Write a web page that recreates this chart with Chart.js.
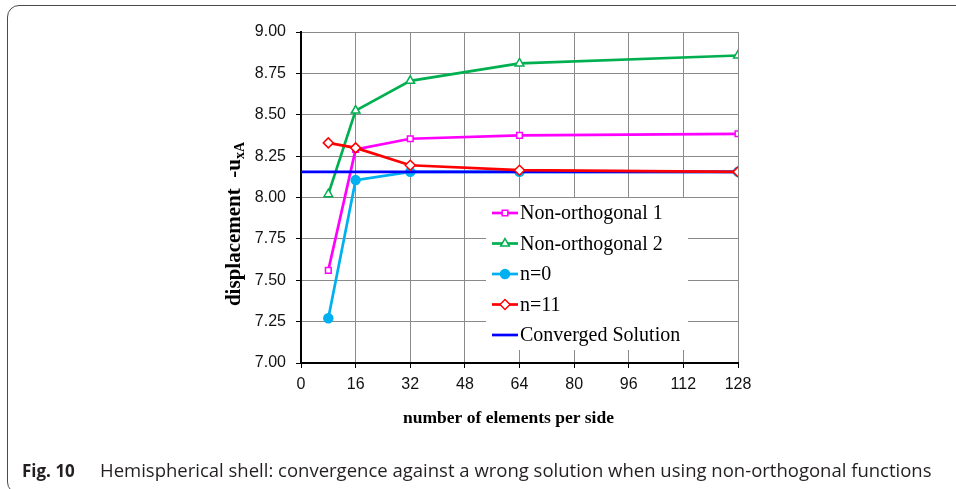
<!DOCTYPE html>
<html>
<head>
<meta charset="utf-8">
<script src="https://cdn.jsdelivr.net/npm/chart.js@4.4.0/dist/chart.umd.min.js"></script>
<style>
  html, body { margin: 0; padding: 0; background: #fff; }
  #wrap { position: relative; width: 956px; height: 489px; overflow: hidden; }
  #frame { position: absolute; left: 7px; top: 5px; width: 1000px; height: 489px;
           border: 1.5px solid #4a4a4a; border-radius: 12px; box-sizing: border-box; }
  #cv { position: absolute; left: 0; top: 0; }
  #caption { position: absolute; left: 22px; top: 457px; font-family: "Open Sans", sans-serif;
             font-size: 18.5px; color: #231f20; white-space: nowrap; }
  #caption b { font-weight: 700; font-size: 17px; display: inline-block; width: 78px; }
</style>
</head>
<body>
<div id="wrap">
  <div id="frame"></div>
  <canvas id="cv" width="956" height="489"></canvas>
  <div id="caption"><b>Fig. 10</b>Hemispherical shell: convergence against a wrong solution when using non-orthogonal functions</div>
</div>
<script>
// valores
const elements   = [8, 16, 32, 64, 128];
const nonOrth1   = [7.56, 8.29, 8.355, 8.375, 8.385];
const nonOrth2   = [8.02, 8.525, 8.705, 8.81, 8.858];
const nZero      = [7.27, 8.105, 8.155, 8.155, 8.155];
const nEleven    = [8.33, 8.30, 8.195, 8.165, 8.155];
const convX      = [0, 128];
const convY      = [8.155, 8.155];
const xTicks     = [0, 16, 32, 48, 64, 80, 96, 112, 128];
const yLabel     = "displacement  -u";
const yLabelSub  = "xA";
const xLabel     = "number of elements per side";

const pts = (xs, ys) => xs.map((x, i) => ({ x, y: ys[i] }));

const series = [
  { label: "Non-orthogonal 1",  data: pts(elements, nonOrth1), color: "#ff00ff", style: "rect",     radius: 4,   fill: "#fff", order: 3 },
  { label: "Non-orthogonal 2",  data: pts(elements, nonOrth2), color: "#00b050", style: "triangle", radius: 5,   fill: "#fff", order: 4 },
  { label: "n=0",               data: pts(elements, nZero),    color: "#00b0f0", style: "circle",   radius: 4.5, fill: "#00b0f0", order: 2 },
  { label: "n=11",              data: pts(elements, nEleven),  color: "#ff0000", style: "rectRot",  radius: 5,   fill: "#fff", order: 0 },
  { label: "Converged Solution", data: pts(convX, convY),      color: "#0000ff", style: false,      radius: 0,   fill: "#0000ff", order: 1 }
];

const datasets = series.map(s => ({
  label: s.label,
  data: s.data,
  order: s.order,
  borderColor: s.color,
  backgroundColor: s.fill,
  borderWidth: 2.7,
  pointStyle: s.style,
  pointRadius: s.radius,
  pointBorderWidth: 1.5,
  pointBorderColor: s.color,
  pointBackgroundColor: s.fill,
  tension: 0
}));

// leyenda y títulos dibujados a mano
const extras = {
  id: "extras",
  afterDatasetsDraw(chart) {
    const ctx = chart.ctx;
    const area = chart.chartArea;

    // cuadro de leyenda
    ctx.save();
    ctx.fillStyle = "#fff";
    ctx.fillRect(486, 198, 202, 152);
    ctx.font = '20px "Liberation Serif"';
    ctx.textBaseline = "middle";
    series.forEach((s, i) => {
      const y = 213 + i * 30.5;
      ctx.strokeStyle = s.color;
      ctx.lineWidth = 2.7;
      ctx.beginPath(); ctx.moveTo(492, y); ctx.lineTo(518, y); ctx.stroke();
      if (s.style) {
        ctx.fillStyle = s.fill;
        ctx.lineWidth = 1.5;
        Chart.helpers.drawPoint(ctx, { pointStyle: s.style, radius: s.radius, rotation: 0, borderWidth: 1.5 }, 505, y);
      }
      ctx.fillStyle = "#000";
      ctx.fillText(s.label, 520, y + 1);
    });
    ctx.restore();

    // título eje x
    ctx.save();
    ctx.font = 'bold 17.5px "Liberation Serif"';
    ctx.fillStyle = "#000";
    ctx.textAlign = "center";
    ctx.textBaseline = "alphabetic";
    ctx.fillText(xLabel, (area.left + area.right) / 2 - 11, 423);
    ctx.restore();

    // título eje y con subíndice
    ctx.save();
    ctx.translate(240, 224);
    ctx.rotate(-Math.PI / 2);
    ctx.fillStyle = "#000";
    ctx.font = 'bold 21px "Liberation Serif"';
    const w1 = ctx.measureText(yLabel).width;
    ctx.font = 'bold 14px "Liberation Serif"';
    const w2 = ctx.measureText(yLabelSub).width;
    const x0 = -(w1 + w2) / 2;
    ctx.font = 'bold 21px "Liberation Serif"';
    ctx.fillText(yLabel, x0, 0);
    ctx.font = 'bold 14px "Liberation Serif"';
    ctx.fillText(yLabelSub, x0 + w1, 4);
    ctx.restore();
  }
};

new Chart(document.getElementById("cv").getContext("2d"), {
  type: "line",
  data: { datasets },
  plugins: [extras],
  options: {
    responsive: false,
    animation: false,
    layout: { padding: { top: 32, right: 218, bottom: 0, left: 0 } },
    plugins: { legend: { display: false }, tooltip: { enabled: false } },
    scales: {
      x: {
        type: "linear", min: 0, max: 128,
        afterBuildTicks: s => { s.ticks = xTicks.map(v => ({ value: v })); },
        afterFit: s => { s.height = 126; },
        ticks: { color: "#111", font: { family: "Liberation Sans", size: 16 }, padding: 7, maxRotation: 0 },
        grid: { color: "#8a8a8a", lineWidth: 1, tickColor: "#000", tickLength: 5 },
        border: { color: "#000", width: 2 }
      },
      y: {
        type: "linear", min: 7, max: 9,
        ticks: { stepSize: 0.25, color: "#111", font: { family: "Liberation Sans", size: 16 }, padding: 10,
                 callback: v => v.toFixed(2) },
        afterFit: s => { s.width = 301; },
        grid: { color: "#8a8a8a", lineWidth: 1, tickColor: "#000", tickLength: 5 },
        border: { color: "#000", width: 2 }
      }
    }
  }
});
</script>
</body>
</html>
